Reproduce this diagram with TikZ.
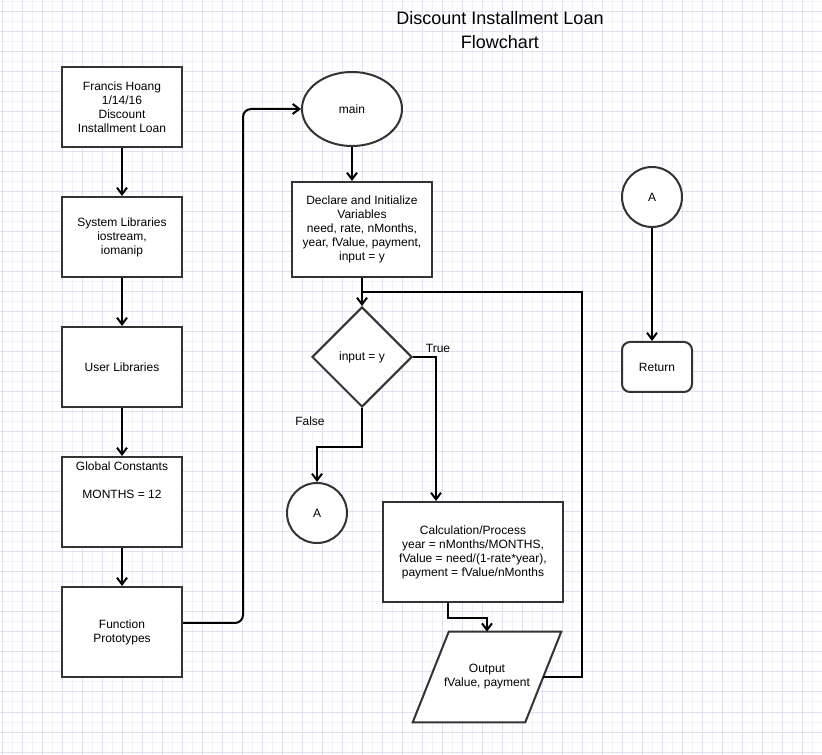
\documentclass[tikz,border=0pt]{standalone}
\usepackage{fontspec}
\setmainfont{Liberation Sans}
\usetikzlibrary{shapes.geometric,arrows.meta,calc}
\definecolor{gridmaj}{RGB}{224,224,240}
\definecolor{gridmin}{RGB}{242,242,251}
\definecolor{edgec}{RGB}{51,51,51}
\begin{document}
\begin{tikzpicture}[x=0.75pt,y=-0.75pt,
  every node/.style={font=\fontsize{9}{10.5}\selectfont, align=center, inner sep=0pt},
  shp/.style={draw=edgec, line width=1.5pt, fill=white},
  box/.style={shp, rectangle, minimum width=90pt, minimum height=60pt},
  conn/.style={line width=1.5pt, black},
  arr/.style={conn, -{Straight Barb[length=5pt,width=7.5pt]}},
  gmin/.style={gridmin, line width=0.75pt},
  gmaj/.style={gridmaj, line width=0.75pt}
]
\useasboundingbox (0,0) rectangle (822,755);
\fill[white] (0,0) rectangle (822,755);
\foreach \x in {12,32,...,812} \draw[gmin] (\x,0) -- (\x,755);
\foreach \y in {2,22,...,742} \draw[gmin] (0,\y) -- (822,\y);
\foreach \x in {2,22,...,802} \draw[gmaj] (\x,0) -- (\x,755);
\foreach \y in {12,32,...,752} \draw[gmaj] (0,\y) -- (822,\y);

% title
\node[font=\fontsize{13.5}{18}\selectfont] (title) at (500,30) {Discount Installment Loan\\Flowchart};

% left column
\node[box] (fh) at (122,107) {Francis Hoang\\1/14/16\\Discount\\Installment Loan};
\node[box] (sl) at (122,237) {System Libraries\\iostream,\\iomanip};
\node[box] (ul) at (122,367) {User Libraries};
\node[box, minimum height=67.5pt] (gc) at (122,502) {};
\node[anchor=north] (gct) at (122,461.5) {Global Constants\\[10.5pt]MONTHS = 12};
\node[box, minimum height=67.5pt] (fp) at (122,632) {Function\\Prototypes};

% middle
\node[shp, ellipse, minimum width=75pt, minimum height=55.5pt] (main) at (352,109) {main};
\node[box, minimum width=105pt, minimum height=71.25pt] (decl) at (362,229.5) {Declare and Initialize\\Variables\\need, rate, nMonths,\\year, fValue, payment,\\input = y};
\node[shp, diamond, aspect=1, minimum width=75pt, minimum height=75pt] (dia) at (362,357) {input = y};
\node[shp, circle, minimum size=45pt] (a1) at (317,513) {A};
\node[box, minimum width=135pt, minimum height=75pt] (calc) at (473,552) {Calculation/Process\\year = nMonths/MONTHS,\\fValue = need/(1-rate*year),\\payment = fValue/nMonths};
% output parallelogram
\node[minimum width=111pt, minimum height=67.5pt] (out) at (487,677) {};
\draw[shp] (out.south west) -- ([xshift=27pt]out.north west) -- (out.north east) -- ([xshift=-27pt]out.south east) -- cycle;
\node (outt) at (487,677) {Output\\fValue, payment};
\coordinate (oute) at ([xshift=-13.5pt]out.east);

% right
\node[shp, circle, minimum size=45pt] (a2) at (652,197) {A};
\node[shp, rectangle, rounded corners=6pt, minimum width=52.5pt, minimum height=37.5pt] (ret) at (657,367) {Return};

% labels
\node (tlab) at (438,348) {True};
\node (flab) at (310,421) {False};

% connectors
\draw[arr] (fh) -- (sl);
\draw[arr] (sl) -- (ul);
\draw[arr] (ul) -- (gc);
\draw[arr] (gc) -- (fp);
\draw[arr, rounded corners=6pt] ([yshift=6.75pt]fp.east) -- ++(60,0) |- (main.west);
\draw[arr] (main.south) -- (main.south |- decl.north);
\draw[arr] (decl.south) -- (dia.north);
\coordinate (join) at ($(decl.south)!0.5!(dia.north)$);
\draw[conn] (oute) -- ++(39,0) |- (join);
\draw[arr] (dia.east) -| ([xshift=-27.75pt]calc.north);
\draw[arr] (dia.south) -- ++(0,39) -| (a1.north);
\draw[arr] ([xshift=-18.75pt]calc.south) -- ++(0,15) -| (out.north);
\draw[arr] (a2.south) -- (a2.south |- ret.north);
\end{tikzpicture}
\end{document}
